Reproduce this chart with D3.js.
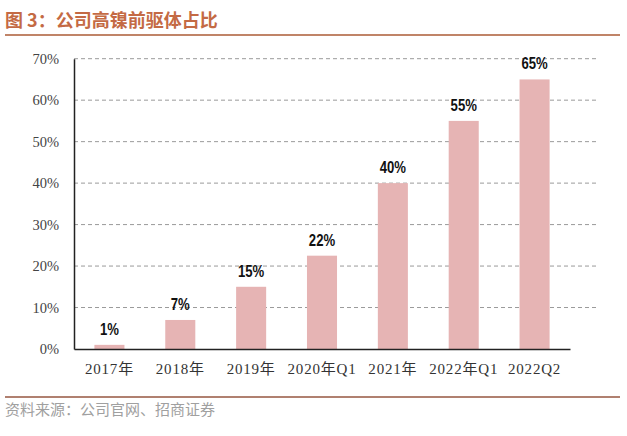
<!DOCTYPE html>
<html><head><meta charset="utf-8">
<script src="https://cdn.jsdelivr.net/npm/d3@7/dist/d3.min.js"></script>
<style>body{margin:0;background:#fff;}svg{display:block;}</style>
</head><body>
<script>
const categories = ["2017年","2018年","2019年","2020年Q1","2021年","2022年Q1","2022Q2"];
const values = [1, 7, 15, 22.5, 40, 55, 65];
const valueLabels = ["1%","7%","15%","22%","40%","55%","65%"];
const yTicks = [0,10,20,30,40,50,60,70];

const W = 627, H = 436;
const svg = d3.select("body").append("svg").attr("width", W).attr("height", H);

// title
svg.append("text").attr("x", 5).attr("y", 27)
  .attr("font-family", "'Noto Sans CJK SC', sans-serif").attr("font-weight", "bold")
  .attr("font-size", 18).attr("fill", "#c46a44").text("图 3：公司高镍前驱体占比");
svg.append("line").attr("x1", 5).attr("x2", 620).attr("y1", 35).attr("y2", 35)
  .attr("stroke", "#c08468").attr("stroke-width", 2);

const x = d3.scaleBand().domain(categories).range([74, 570]).paddingInner(0.576).paddingOuter(0.288);
const y = d3.scaleLinear().domain([0, 70]).range([349, 58.7]);

// gridlines
svg.append("g").selectAll("line").data(yTicks.filter(d => d > 0)).join("line")
  .attr("x1", 74).attr("x2", 597).attr("y1", d => y(d)).attr("y2", d => y(d))
  .attr("stroke", "#9a9a9a").attr("stroke-width", 1).attr("stroke-dasharray", "4,3");

// bars
svg.append("g").selectAll("rect").data(values).join("rect")
  .attr("x", (d, i) => x(categories[i])).attr("width", x.bandwidth())
  .attr("y", d => y(d)).attr("height", d => y(0) - y(d))
  .attr("fill", "#e6b4b4");

// value labels (condensed bold)
svg.append("g").selectAll("text").data(values).join("text")
  .attr("transform", (d, i) => `translate(${x(categories[i]) + x.bandwidth() / 2},${y(d) - 10}) scale(0.82,1)`)
  .attr("text-anchor", "middle")
  .attr("font-family", "'Liberation Sans', sans-serif")
  .attr("font-weight", "bold").attr("font-size", 16).attr("fill", "#111")
  .text((d, i) => valueLabels[i]);

// y axis
const yAxis = d3.axisLeft(y).tickValues(yTicks).tickFormat(d => d + "%").tickSize(0).tickPadding(15);
const gy = svg.append("g").attr("transform", "translate(74,0)").call(yAxis);
gy.select(".domain").attr("stroke", "#222").attr("stroke-width", 1.5);
gy.selectAll("text").attr("font-family", "'Liberation Serif', serif").attr("font-size", 14.5).attr("fill", "#444");

// x axis
const xAxis = d3.axisBottom(x).tickSize(0).tickPadding(14);
const gx = svg.append("g").attr("transform", "translate(0,349)").call(xAxis);
gx.select(".domain").attr("stroke", "#222").attr("stroke-width", 1.5);
gx.selectAll("text").attr("font-family", "'Liberation Serif', 'Noto Sans CJK SC', serif").attr("font-size", 15)
  .attr("fill", "#333").attr("letter-spacing", "0.8px");

// footer
svg.append("line").attr("x1", 5).attr("x2", 620).attr("y1", 397).attr("y2", 397)
  .attr("stroke", "#b08070").attr("stroke-width", 2);
svg.append("text").attr("x", 5).attr("y", 415)
  .attr("font-family", "'Noto Sans CJK SC', sans-serif").attr("font-size", 15)
  .attr("fill", "#a0a0a0").text("资料来源：公司官网、招商证券");
</script>
</body></html>
